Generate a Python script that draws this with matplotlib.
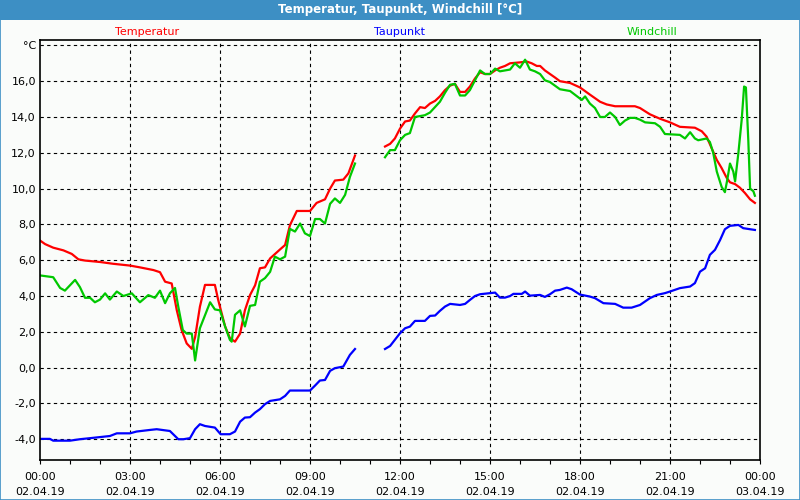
import numpy as np
import matplotlib
matplotlib.use('Agg')
import matplotlib.pyplot as plt
from matplotlib.patches import Rectangle

nan = np.nan

# hours since 02.04.19 00:00 ; nan = gap in data
t_temp = [0.0, 0.17, 0.44, 0.78, 1.06, 1.28, 1.5, 2.0, 2.44, 3.0, 3.33, 3.78, 4.0, 4.17, 4.39,
          4.56, 4.72, 4.89, 5.06, 5.17, 5.33, 5.5, 5.83, 5.94, 6.17, 6.33, 6.5, 6.67, 6.83, 7.0,
          7.17, 7.33, 7.5, 7.67, 8.0, 8.17, 8.33, 8.56, 9.0, 9.22, 9.5, 9.67, 9.83, 10.11, 10.28,
          10.5, 11.0,
          11.5, 11.67, 11.83, 12.0, 12.17, 12.33, 12.5, 12.67, 12.83, 13.0, 13.17, 13.33, 13.5,
          13.67, 13.83, 14.0, 14.17, 14.33, 14.5, 14.67, 14.83, 15.0, 15.17, 15.33, 15.5, 15.67,
          16.0, 16.22, 16.39, 16.56, 16.67, 16.83, 17.0, 17.17, 17.33, 17.67, 18.0, 18.33, 18.67,
          18.89, 19.17, 19.83, 20.0, 20.33, 20.67, 21.0, 21.33, 21.83, 22.06, 22.22, 22.39, 22.56,
          22.72, 22.89, 23.0, 23.17, 23.33, 23.5, 23.67, 23.83]
temp = [7.1, 6.9, 6.7, 6.55, 6.35, 6.05, 5.98, 5.9, 5.8, 5.7, 5.6, 5.45, 5.33, 4.8, 4.7,
        3.2, 2.1, 1.35, 1.05, 1.7, 3.4, 4.62, 4.62, 3.78, 2.3, 1.65, 1.45, 1.9, 3.2, 4.05,
        4.6, 5.55, 5.6, 6.1, 6.6, 6.85, 7.95, 8.75, 8.75, 9.2, 9.4, 10.0, 10.45, 10.5, 10.85,
        11.85, nan,
        12.35, 12.5, 12.8, 13.35, 13.75, 13.8, 14.2, 14.55, 14.5, 14.75, 14.9, 15.15, 15.5,
        15.75, 15.85, 15.4, 15.4, 15.7, 16.15, 16.5, 16.4, 16.4, 16.6, 16.75, 16.85, 17.0,
        17.05, 17.1, 17.0, 16.85, 16.85, 16.6, 16.4, 16.2, 16.0, 15.9, 15.65, 15.25, 14.85,
        14.7, 14.6, 14.6, 14.5, 14.15, 13.9, 13.7, 13.45, 13.4, 13.2, 12.9, 12.25, 11.6,
        11.15, 10.6, 10.35, 10.25, 10.05, 9.75, 9.4, 9.2]

t_dew = [0.0, 0.33, 0.44, 1.0, 1.33, 1.67, 2.33, 2.56, 3.0, 3.22, 3.67, 3.89, 4.33, 4.61, 4.78,
         5.0, 5.17, 5.33, 5.5, 5.83, 6.02, 6.33, 6.5, 6.67, 6.83, 7.0, 7.17, 7.33, 7.5, 7.67,
         8.0, 8.17, 8.33, 9.0, 9.17, 9.33, 9.5, 9.67, 9.83, 10.11, 10.33, 10.5, 11.0,
         11.5, 11.67, 12.0, 12.17, 12.33, 12.5, 12.83, 13.0, 13.17, 13.33, 13.5, 13.67, 14.0,
         14.17, 14.33, 14.5, 14.67, 15.17, 15.33, 15.5, 15.67, 15.78, 16.06, 16.17, 16.33, 16.67,
         16.83, 17.0, 17.17, 17.33, 17.56, 17.72, 18.0, 18.33, 18.5, 18.78, 19.17, 19.44, 19.72,
         20.0, 20.33, 20.56, 20.83, 21.0, 21.33, 21.67, 21.83, 22.0, 22.17, 22.33, 22.5, 22.67,
         22.83, 23.0, 23.28, 23.44, 23.67, 23.83]
dew = [-3.98, -3.98, -4.08, -4.08, -4.0, -3.94, -3.82, -3.67, -3.67, -3.57, -3.48, -3.44, -3.54,
       -4.0, -4.0, -3.94, -3.44, -3.16, -3.26, -3.35, -3.72, -3.72, -3.57, -3.02, -2.79, -2.77,
       -2.51, -2.32, -2.04, -1.86, -1.77, -1.58, -1.28, -1.28, -1.0, -0.72, -0.69, -0.18, -0.03,
       0.06, 0.71, 1.04, nan,
       1.04, 1.21, 1.92, 2.2, 2.29, 2.61, 2.61, 2.89, 2.91, 3.17, 3.41, 3.56, 3.5,
       3.56, 3.78, 4.0, 4.1, 4.19, 3.91, 3.91, 4.0, 4.12, 4.12, 4.25, 4.02, 4.06,
       3.95, 4.1, 4.3, 4.34, 4.47, 4.38, 4.08, 3.97, 3.88, 3.6, 3.56, 3.35, 3.35,
       3.5, 3.88, 4.06, 4.16, 4.25, 4.44, 4.53, 4.72, 5.36, 5.55, 6.3, 6.58, 7.13,
       7.73, 7.92, 7.97, 7.79, 7.73, 7.69]

t_wind = [0.0, 0.44, 0.67, 0.83, 1.17, 1.33, 1.5, 1.67, 1.83, 2.0, 2.17, 2.33, 2.56, 2.78, 3.06,
          3.33, 3.61, 3.83, 4.0, 4.17, 4.33, 4.5, 4.61, 4.76, 4.89, 5.06, 5.17, 5.33, 5.67, 5.83,
          6.0, 6.17, 6.33, 6.39, 6.5, 6.67, 6.83, 7.0, 7.17, 7.33, 7.5, 7.67, 7.83, 8.0, 8.17,
          8.33, 8.5, 8.67, 8.83, 9.0, 9.17, 9.33, 9.5, 9.67, 9.83, 10.0, 10.17, 10.33, 10.5, 11.0,
          11.5, 11.67, 11.83, 12.0, 12.17, 12.33, 12.5, 12.83, 13.0, 13.33, 13.5, 13.67, 13.83,
          14.0, 14.17, 14.33, 14.5, 14.67, 14.83, 15.0, 15.17, 15.33, 15.67, 15.83, 16.0, 16.17,
          16.33, 16.5, 16.67, 16.83, 17.0, 17.33, 17.67, 18.06, 18.17, 18.33, 18.5, 18.67, 18.83,
          19.0, 19.17, 19.33, 19.5, 19.67, 19.83, 20.0, 20.17, 20.5, 20.67, 20.83, 21.33, 21.5,
          21.67, 21.83, 21.94, 22.22, 22.33, 22.44, 22.56, 22.72, 22.83, 22.91, 23.0, 23.11,
          23.17, 23.28, 23.39, 23.47, 23.53, 23.61, 23.67, 23.78, 23.83]
wind = [5.15, 5.05, 4.45, 4.3, 4.9, 4.5, 3.9, 3.9, 3.65, 3.8, 4.15, 3.8, 4.25, 4.0, 4.15,
        3.65, 4.05, 3.9, 4.3, 3.6, 4.15, 4.45, 3.4, 2.1, 1.9, 1.9, 0.4, 2.2, 3.65, 3.25,
        3.2, 2.3, 1.55, 1.45, 2.95, 3.2, 2.3, 3.45, 3.5, 4.8, 5.0, 5.35, 6.2, 6.05, 6.2,
        7.75, 7.6, 8.05, 7.5, 7.35, 8.3, 8.3, 8.05, 9.15, 9.45, 9.2, 9.65, 10.65, 11.4, nan,
        11.75, 12.15, 12.15, 12.7, 13.0, 13.1, 14.0, 14.1, 14.25, 14.85, 15.35, 15.8, 15.85,
        15.2, 15.2, 15.5, 16.05, 16.6, 16.4, 16.4, 16.7, 16.55, 16.65, 17.0, 16.75, 17.2,
        16.65, 16.55, 16.4, 16.05, 15.95, 15.55, 15.45, 14.95, 15.15, 14.75, 14.5, 14.0, 14.0,
        14.25, 14.0, 13.55, 13.8, 13.95, 13.95, 13.85, 13.7, 13.65, 13.45, 13.05, 13.0, 12.8,
        13.15, 12.8, 12.7, 12.8, 12.6, 12.0, 10.95, 10.1, 9.8, 10.5, 11.4, 10.95,
        10.4, 12.0, 13.85, 15.7, 15.65, 12.7, 10.0, 9.85, 9.6]

ytick_vals = [-4, -2, 0, 2, 4, 6, 8, 10, 12, 14, 16, 18]
ytick_labels = ['-4,0', '-2,0', '0,0', '2,0', '4,0', '6,0', '8,0', '10,0', '12,0', '14,0', '16,0', '°C']
xtick_hours = [0, 3, 6, 9, 12, 15, 18, 21, 24]
xtick_labels = ['00:00\n02.04.19', '03:00\n02.04.19', '06:00\n02.04.19', '09:00\n02.04.19',
                '12:00\n02.04.19', '15:00\n02.04.19', '18:00\n02.04.19', '21:00\n02.04.19',
                '00:00\n03.04.19']

bg = '#fafcfa'
bar_blue = '#3d8fc4'
c_temp = '#ff0000'
c_dew = '#0000ff'
c_wind = '#00c800'

fig = plt.figure(figsize=(8, 5), dpi=100, facecolor=bg)

# title bar + frame
fig.patches.append(Rectangle((0, 0.96), 1, 0.04, transform=fig.transFigure,
                             facecolor=bar_blue, edgecolor='none', zorder=0))
fig.patches.append(Rectangle((0.0006, 0.001), 0.9988, 0.998, transform=fig.transFigure,
                             facecolor='none', edgecolor=bar_blue, linewidth=1.2, zorder=5))
fig.text(0.5, 0.98, 'Temperatur, Taupunkt, Windchill [°C]', color='white', fontweight='bold',
         fontsize=8.5, ha='center', va='center')

ax = fig.add_axes([0.05, 0.08, 0.90, 0.84])
ax.set_facecolor(bg)

ax.plot(t_temp, temp, color=c_temp, lw=1.6)
ax.plot(t_wind, wind, color=c_wind, lw=1.6)
ax.plot(t_dew, dew, color=c_dew, lw=1.6)

ax.set_xlim(0, 24)
ax.set_ylim(-5.16, 18.3)

ax.set_yticks(ytick_vals)
ax.set_yticklabels(ytick_labels, fontsize=8)
ax.set_xticks(xtick_hours)
ax.set_xticklabels(xtick_labels, fontsize=8, linespacing=1.6)
ax.set_xticks(np.arange(0, 25, 1), minor=True)
ax.tick_params(axis='y', length=0, pad=3)
ax.tick_params(axis='x', which='both', length=3, width=0.8, direction='out', pad=6)

for v in ytick_vals:
    ax.axhline(v, color='black', lw=0.8, ls=(0, (3, 3)), zorder=1)
for h in xtick_hours[1:-1]:
    ax.axvline(h, color='black', lw=0.8, ls=(0, (3, 3)), zorder=1)

for sp in ax.spines.values():
    sp.set_color('black')
    sp.set_linewidth(1.2)

fig.text(147 / 800, 1 - 32 / 500, 'Temperatur', color=c_temp, fontsize=8, ha='center', va='center')
fig.text(400 / 800, 1 - 32 / 500, 'Taupunkt', color=c_dew, fontsize=8, ha='center', va='center')
fig.text(652 / 800, 1 - 32 / 500, 'Windchill', color=c_wind, fontsize=8, ha='center', va='center')

fig.savefig('out.png', dpi=100, facecolor=bg)
